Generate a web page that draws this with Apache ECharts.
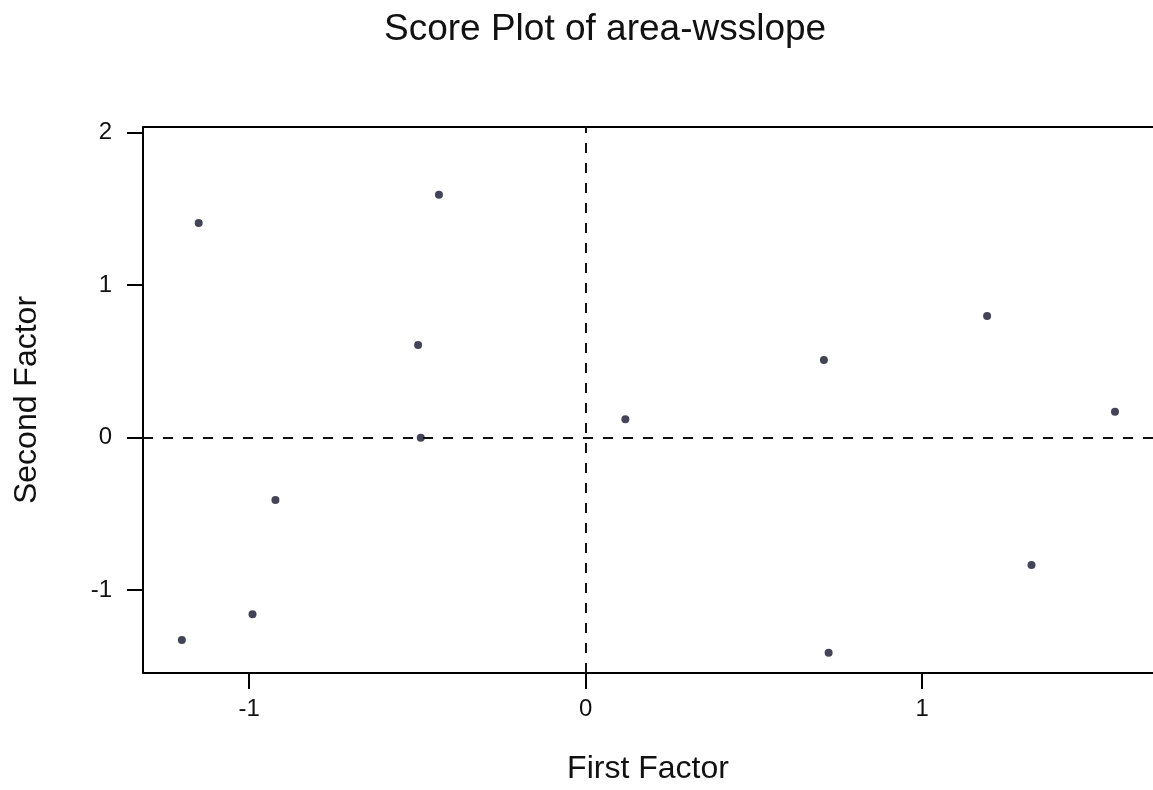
<!DOCTYPE html>
<html>
<head>
<meta charset="utf-8">
<script src="https://cdn.jsdelivr.net/npm/echarts@6/dist/echarts.min.js"></script>
<style>
  html, body { margin: 0; padding: 0; background: #ffffff; }
  #chart { width: 1153px; height: 790px; }
</style>
</head>
<body>
<div id="chart"></div>
<script>
// Factor scores for each observation
const firstFactor  = [-1.150, -0.436, -0.498, -0.490, -0.922, -0.990, -1.200, 0.708, 1.193, 1.573, 1.325, 0.722, 0.118];
const secondFactor = [ 1.408,  1.592,  0.608,  0.000, -0.409, -1.158, -1.327, 0.510, 0.798, 0.170, -0.835, -1.410, 0.121];

// Tick values shown on each axis
const xTicks = [-1, 0, 1];
const yTicks = [-1, 0, 1, 2];

const points = firstFactor.map((x, i) => [x, secondFactor[i]]);

const FONT = '"Liberation Sans", Arial, sans-serif';
const X_MIN = -1.3155, X_MAX = 1.686;
const Y_MIN = -1.543, Y_MAX = 2.037;

const chart = echarts.init(document.getElementById('chart'), null, { renderer: 'canvas' });

chart.setOption({
  backgroundColor: '#ffffff',
  animation: false,
  title: {
    text: 'Score Plot of area-wsslope',
    left: 379,
    top: 6,
    textStyle: { fontFamily: FONT, fontSize: 37, fontWeight: 'normal', color: '#111111' }
  },
  grid: { left: 143, right: 0, top: 127, bottom: 117, containLabel: false },
  xAxis: [
    {
      type: 'value',
      min: X_MIN,
      max: X_MAX,
      position: 'bottom',
      name: 'First Factor',
      nameLocation: 'middle',
      nameGap: 80,
      nameTextStyle: { fontFamily: FONT, fontSize: 32, color: '#111111' },
      axisLine: { show: true, onZero: false, lineStyle: { color: '#000000', width: 2 } },
      axisTick: { show: true, length: 16, lineStyle: { color: '#000000', width: 2 }, customValues: xTicks },
      axisLabel: { show: true, margin: 24, fontFamily: FONT, fontSize: 24, color: '#111111', customValues: xTicks },
      splitLine: { show: false }
    },
    {
      type: 'value',
      min: X_MIN,
      max: X_MAX,
      position: 'top',
      axisLine: { show: true, onZero: false, lineStyle: { color: '#000000', width: 2 } },
      axisTick: { show: false },
      axisLabel: { show: false },
      splitLine: { show: false }
    }
  ],
  yAxis: {
    type: 'value',
    min: Y_MIN,
    max: Y_MAX,
    name: 'Second Factor',
    nameLocation: 'middle',
    nameGap: 100,
    nameTextStyle: { fontFamily: FONT, fontSize: 32, color: '#111111' },
    axisLine: { show: true, onZero: false, lineStyle: { color: '#000000', width: 2 } },
    axisTick: { show: true, length: 16, lineStyle: { color: '#000000', width: 2 }, customValues: yTicks },
    axisLabel: { show: true, margin: 31, fontFamily: FONT, fontSize: 24, color: '#111111', customValues: yTicks },
    splitLine: { show: false }
  },
  series: [
    {
      type: 'scatter',
      xAxisIndex: 0,
      data: points,
      symbol: 'circle',
      symbolSize: 8,
      itemStyle: { color: '#15152e' },
      markLine: {
        silent: true,
        symbol: 'none',
        label: { show: false },
        lineStyle: { color: '#111111', width: 2, type: [10, 10] },
        data: [{ xAxis: 0 }, { yAxis: 0 }]
      },
      z: 3
    }
  ]
});
</script>
</body>
</html>
